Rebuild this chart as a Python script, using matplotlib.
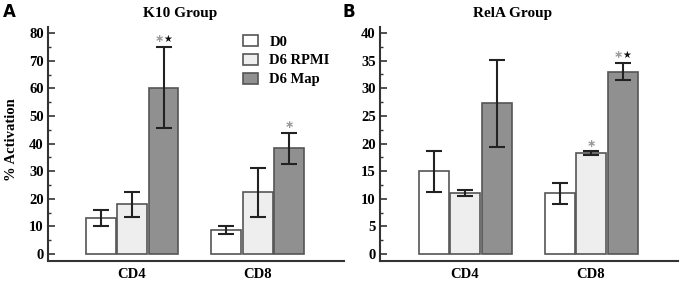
import matplotlib.pyplot as plt
from matplotlib.patches import Patch
from matplotlib.ticker import MultipleLocator

groups = ['CD4', 'CD8']
series = ['D0', 'D6 RPMI', 'D6 Map']

k10_vals = [[13.0, 8.7], [18.0, 22.3], [60.3, 38.3]]
k10_errs = [[3.0, 1.6], [4.6, 8.8], [14.8, 5.6]]
rela_vals = [[15.0, 11.0], [11.0, 18.3], [27.3, 33.0]]
rela_errs = [[3.7, 1.9], [0.5, 0.35], [7.9, 1.5]]

# significance marks: (group index, series index, y, text)
k10_marks = [(0, 2, 77.8, 'both'), (1, 2, 46.7, 'gray')]
rela_marks = [(1, 2, 36.0, 'both'), (1, 1, 19.9, 'gray')]

colors = ['#ffffff', '#eeeeee', '#909090']
edge = '#555555'
serif = 'Liberation Serif'

W, H = 680, 282
fig = plt.figure(figsize=(W / 100, H / 100), dpi=100)

def draw(ax, vals, errs, marks, ylim, major, minor, xlim):
    bw = 0.238
    for s in range(3):
        xs = [g + (s - 1) * 0.25 for g in range(2)]
        ax.bar(xs, vals[s], width=bw, color=colors[s], edgecolor=edge, linewidth=1.2, zorder=2)
        ax.errorbar(xs, vals[s], yerr=errs[s], fmt='none', ecolor='#222222',
                    elinewidth=1.5, capsize=6, capthick=1.5, zorder=3)
    for g, s, y, kind in marks:
        x = g + (s - 1) * 0.25
        if kind == 'both':
            ax.text(x - 0.035, y, '\u2217', color='#999999', ha='center', va='center',
                    fontsize=8, family='DejaVu Sans', fontweight='bold')
            ax.text(x + 0.035, y, '★', color='#111111', ha='center', va='center',
                    fontsize=7, family='DejaVu Sans')
        else:
            ax.text(x, y, '\u2217', color='#999999', ha='center', va='center',
                    fontsize=8, family='DejaVu Sans', fontweight='bold')
    ax.set_ylim(*ylim)
    ax.set_xlim(*xlim)
    ax.yaxis.set_major_locator(MultipleLocator(major))
    ax.yaxis.set_minor_locator(MultipleLocator(minor))
    ax.set_xticks([0, 1])
    ax.set_xticklabels(groups)
    ax.tick_params(axis='x', length=0, pad=5)
    ax.tick_params(axis='y', which='major', direction='in', length=5, width=1.2, color='#333333', pad=3)
    ax.tick_params(axis='y', which='minor', direction='in', length=2.5, width=1.0, color='#333333')
    for lab in ax.get_xticklabels() + ax.get_yticklabels():
        lab.set_fontfamily(serif)
        lab.set_fontweight('bold')
        lab.set_fontsize(10.5)
    for sp in ['top', 'right']:
        ax.spines[sp].set_visible(False)
    for sp in ['left', 'bottom']:
        ax.spines[sp].set_linewidth(1.5)
        ax.spines[sp].set_color('#333333')

bottom = 1 - 261 / H
height = (261 - 27) / H
ax1 = fig.add_axes([48 / W, bottom, (344 - 48) / W, height])
ax2 = fig.add_axes([380 / W, bottom, (678 - 380) / W, height])

draw(ax1, k10_vals, k10_errs, k10_marks, (-2.5, 82.2), 10, 5, (-0.667, 1.683))
draw(ax2, rela_vals, rela_errs, rela_marks, (-1.27, 41.1), 5, 2.5, (-0.675, 1.69))

fig.text(12 / W, 1 - 140 / H, '% Activation', rotation=90, ha='center', va='center',
         family=serif, fontweight='bold', fontsize=10.5)
fig.text(180 / W, 1 - 13 / H, 'K10 Group', ha='center', va='center',
         family=serif, fontweight='bold', fontsize=11)
fig.text(513 / W, 1 - 13 / H, 'RelA Group', ha='center', va='center',
         family=serif, fontweight='bold', fontsize=11)
fig.text(3 / W, 1 - 12 / H, 'A', ha='left', va='center', family='DejaVu Sans',
         fontweight='bold', fontsize=12)
fig.text(343 / W, 1 - 12 / H, 'B', ha='left', va='center', family='DejaVu Sans',
         fontweight='bold', fontsize=12)

handles = [Patch(facecolor=colors[i], edgecolor=edge, linewidth=1.2, label=series[i]) for i in range(3)]
fig.legend(handles=handles, loc='upper left', bbox_to_anchor=(243 / W, 1 - 35 / H),
           frameon=False, handlelength=1.0, handleheight=0.8, labelspacing=0.35,
           handletextpad=0.8, borderpad=0, borderaxespad=0,
           prop={'family': serif, 'weight': 'bold', 'size': 10.5})

fig.savefig('out.png', dpi=100)
